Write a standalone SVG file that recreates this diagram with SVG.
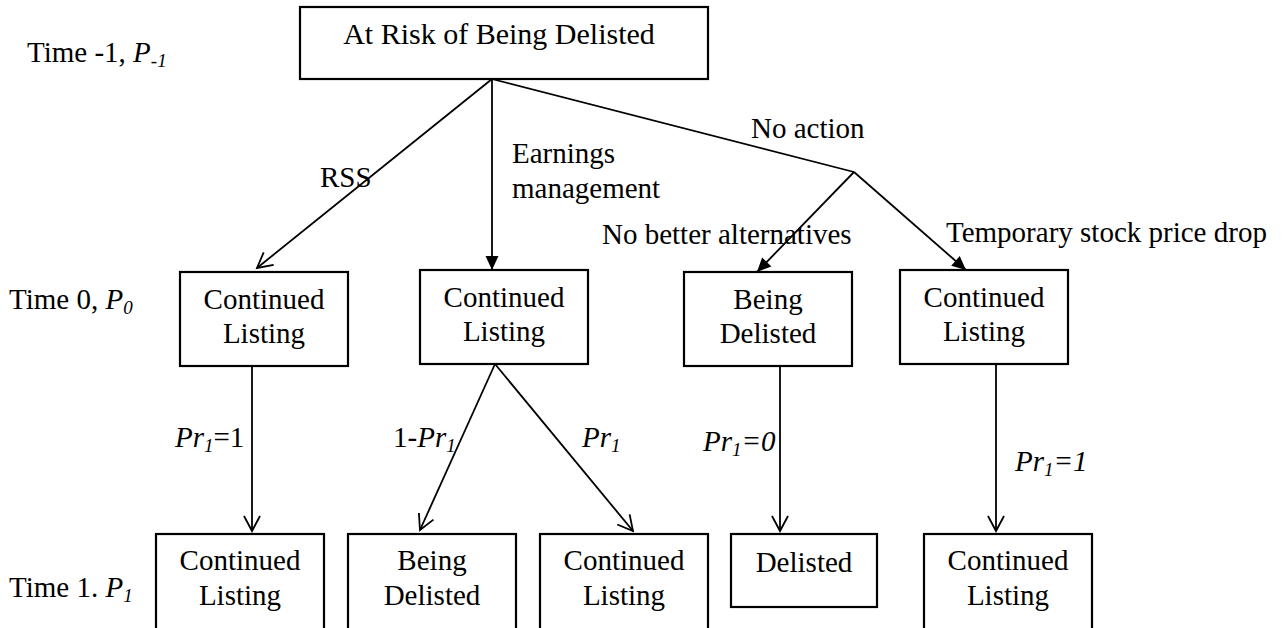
<svg xmlns="http://www.w3.org/2000/svg" width="1285" height="628" viewBox="0 0 1285 628">
<style>
text { font-family: "Liberation Serif", "Times New Roman", serif; font-size: 29px; fill: #000; }
.c { text-anchor: middle; }
.i { font-style: italic; }
.sub { font-size: 19px; font-style: italic; }
.box { fill: #fff; stroke: #000; stroke-width: 2.2; }
.ln { fill: none; stroke: #000; stroke-width: 1.8; }
.open { marker-end: url(#openArrow); }
.fill { marker-end: url(#fillArrow); }
</style>
<defs>
<marker id="openArrow" markerUnits="userSpaceOnUse" markerWidth="24" markerHeight="24" viewBox="-18 -12 20 24" refX="0" refY="0" orient="auto" overflow="visible">
<path d="M-15,-8 L0,0 L-15,8" fill="none" stroke="#000" stroke-width="1.8"/>
</marker>
<marker id="fillArrow" markerUnits="userSpaceOnUse" markerWidth="24" markerHeight="24" viewBox="-18 -12 20 24" refX="0" refY="0" orient="auto" overflow="visible">
<path d="M-14,-6.5 L0,0 L-14,6.5 Z" fill="#000"/>
</marker>
</defs>
<rect width="1285" height="628" fill="#fff"/>

<g id="time-labels">
<text x="27" y="62">Time -1, <tspan class="i">P</tspan><tspan class="sub" dy="5">-1</tspan></text>
<text x="9" y="309">Time 0, <tspan class="i">P</tspan><tspan class="sub" dy="5">0</tspan></text>
<text x="9" y="597">Time 1. <tspan class="i">P</tspan><tspan class="sub" dy="5">1</tspan></text>
</g>

<g id="connectors">
<line class="ln open" x1="492" y1="79" x2="257" y2="268"/>
<line class="ln fill" x1="492" y1="79" x2="492" y2="270"/>
<polyline class="ln" points="492,79 854,172"/>
<line class="ln fill" x1="854" y1="172" x2="757" y2="272"/>
<line class="ln fill" x1="854" y1="172" x2="966" y2="270"/>
<line class="ln open" x1="252" y1="366" x2="252" y2="531"/>
<line class="ln open" x1="495" y1="364" x2="420" y2="530"/>
<line class="ln open" x1="495" y1="364" x2="633" y2="531"/>
<line class="ln open" x1="780" y1="366" x2="780" y2="531"/>
<line class="ln open" x1="996" y1="364" x2="996" y2="531"/>
</g>

<g id="edge-labels">
<text x="320" y="187">RSS</text>
<text x="512" y="163">Earnings</text>
<text x="512" y="198">management</text>
<text x="751" y="138">No action</text>
<text x="602" y="244">No better alternatives</text>
<text x="946" y="242">Temporary stock price drop</text>
<text x="175" y="447"><tspan class="i">Pr</tspan><tspan class="sub" dy="5">1</tspan><tspan dy="-5">=1</tspan></text>
<text x="393" y="447">1-<tspan class="i">Pr</tspan><tspan class="sub" dy="5">1</tspan></text>
<text x="582" y="447"><tspan class="i">Pr</tspan><tspan class="sub" dy="5">1</tspan></text>
<text x="703" y="451"><tspan class="i">Pr</tspan><tspan class="sub" dy="5">1</tspan><tspan class="i" dy="-5">=0</tspan></text>
<text x="1015" y="471"><tspan class="i">Pr</tspan><tspan class="sub" dy="5">1</tspan><tspan class="i" dy="-5">=1</tspan></text>
</g>

<g id="root">
<rect class="box" x="300" y="7" width="408" height="72"/>
<text class="c" x="499" y="44" style="font-size:30px">At Risk of Being Delisted</text>
</g>

<g id="t0-rss">
<rect class="box" x="180" y="272" width="168" height="94"/>
<text class="c" x="264" y="309">Continued<tspan x="264" dy="34">Listing</tspan></text>
</g>
<g id="t0-em">
<rect class="box" x="420" y="270" width="168" height="94"/>
<text class="c" x="504" y="307">Continued<tspan x="504" dy="34">Listing</tspan></text>
</g>
<g id="t0-nba">
<rect class="box" x="684" y="272" width="168" height="94"/>
<text class="c" x="768" y="309">Being<tspan x="768" dy="34">Delisted</tspan></text>
</g>
<g id="t0-tspd">
<rect class="box" x="900" y="270" width="168" height="94"/>
<text class="c" x="984" y="307">Continued<tspan x="984" dy="34">Listing</tspan></text>
</g>

<g id="t1-rss">
<rect class="box" x="156" y="534" width="168" height="110"/>
<text class="c" x="240" y="570">Continued<tspan x="240" dy="35">Listing</tspan></text>
</g>
<g id="t1-em-delisted">
<rect class="box" x="348" y="534" width="168" height="110"/>
<text class="c" x="432" y="570">Being<tspan x="432" dy="35">Delisted</tspan></text>
</g>
<g id="t1-em-listed">
<rect class="box" x="540" y="534" width="168" height="110"/>
<text class="c" x="624" y="570">Continued<tspan x="624" dy="35">Listing</tspan></text>
</g>
<g id="t1-nba">
<rect class="box" x="731" y="534" width="146" height="73"/>
<text class="c" x="804" y="572">Delisted</text>
</g>
<g id="t1-tspd">
<rect class="box" x="924" y="534" width="168" height="110"/>
<text class="c" x="1008" y="570">Continued<tspan x="1008" dy="35">Listing</tspan></text>
</g>
</svg>
